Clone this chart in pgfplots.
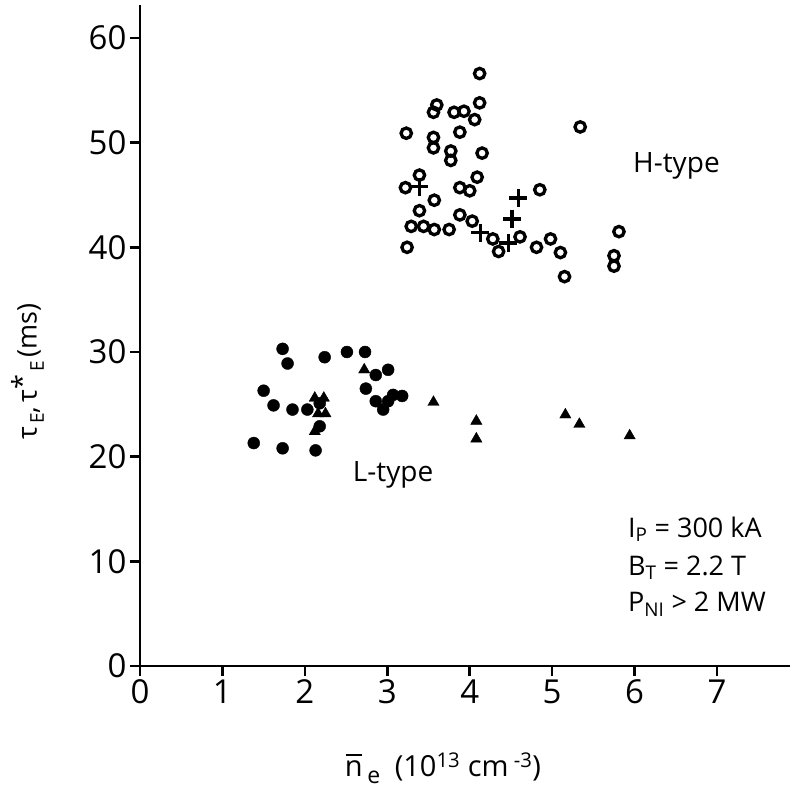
\documentclass[border=0pt]{standalone}
\usepackage{fontspec}
\setmainfont{Open Sans}
\usepackage{pgfplots}
\pgfplotsset{compat=1.18}
\newcommand{\nbar}{\makebox[0pt][l]{\hspace{0.03em}\raisebox{0.72em}{\rule{0.55em}{0.065em}}}n}
\begin{document}
\begin{tikzpicture}
\begin{axis}[
  at={(0,0)}, anchor=south west,
  scale only axis, width=650pt, height=661pt,
  xmin=0, xmax=7.885, ymin=0, ymax=63.15,
  axis lines*=left,
  axis line style={line width=2.6pt},
  xtick={0,1,...,7}, ytick={0,10,...,60},
  tick style={line width=2.6pt, black},
  tick align=outside, major tick length=10pt,
  tick label style={font=\fontsize{33}{36}\selectfont},
  /pgf/number format/assume math mode=true,
  clip=false,
  xlabel={\nbar\,\raisebox{-0.45ex}{\fontsize{23}{23}\selectfont e}\enspace(10\textsuperscript{13} cm\textsuperscript{ -3})},
  ylabel={τ\raisebox{-0.5ex}{\fontsize{19}{19}\selectfont\,E},\,τ\raisebox{0.35ex}{*}\raisebox{-0.5ex}{\fontsize{19}{19}\selectfont\,E\,}(ms)},
  every axis x label/.style={at={(axis description cs:0.466,-0.155)}, anchor=center, font=\fontsize{29}{32}\selectfont},
  every axis y label/.style={at={(axis description cs:-0.173,0.445)}, anchor=center, rotate=90, font=\fontsize{27}{30}\selectfont},
]
% L-type filled circles
\addplot[only marks, mark=*, mark size=6pt, black] coordinates {
(1.73,30.3)(1.79,28.9)(2.24,29.5)(2.51,30.0)(2.73,30.0)(2.86,27.8)(3.01,28.3)
(2.74,26.5)(1.50,26.3)(1.62,24.9)(1.85,24.5)(2.03,24.5)(2.86,25.3)(2.95,24.5)
(3.07,25.9)(3.18,25.8)(3.01,25.3)(2.18,22.9)(1.38,21.3)(1.73,20.8)(2.13,20.6)(2.18,25.1)
};
% triangles
\addplot[only marks, mark=triangle*, mark size=6.5pt, black] coordinates {
(2.72,28.3)(2.12,25.6)(2.23,25.6)(2.16,24.1)(2.25,24.1)(2.12,22.4)(3.56,25.2)
(4.08,23.4)(4.08,21.7)(5.16,24.0)(5.33,23.1)(5.94,22.0)
};
% H-type open circles
\addplot[only marks, mark=o, mark size=5.2pt, line width=3.3pt, black] coordinates {
(4.12,56.6)(3.60,53.6)(3.56,52.9)(3.81,52.9)(3.93,53.0)(4.06,52.2)(4.12,53.8)
(3.23,50.9)(3.56,50.5)(3.56,49.5)(3.88,51.0)(3.77,49.2)(3.77,48.3)(4.15,49.0)
(3.39,46.9)(3.22,45.7)(3.88,45.7)(4.00,45.4)(4.09,46.7)(3.57,44.5)(3.39,43.5)
(3.29,42.0)(3.44,42.0)(3.57,41.7)(3.75,41.7)(3.88,43.1)(4.03,42.5)(3.24,40.0)
(4.28,40.8)(4.35,39.6)(4.61,41.0)(4.81,40.0)(4.85,45.5)(4.98,40.8)(5.10,39.5)
(5.15,37.2)(5.81,41.5)(5.75,39.2)(5.75,38.2)(5.34,51.5)
};
% crosses
\addplot[only marks, mark=+, mark size=9pt, line width=3.5pt, black] coordinates {
(3.39,45.8)(4.13,41.4)(4.47,40.4)(4.51,42.7)(4.59,44.7)
};
\node[font=\fontsize{28}{30}\selectfont, anchor=base west, inner sep=0pt] at (axis cs:5.98,47.1) {H-type};
\node[font=\fontsize{28}{30}\selectfont, anchor=base west, inner sep=0pt] at (axis cs:2.58,17.6) {L-type};
\begin{scope}[every node/.style={font=\fontsize{27}{30}\selectfont, anchor=base west, inner sep=0pt}]
\node at (axis cs:5.92,12.32) {I\textsubscript{P} = 300 kA};
\node at (axis cs:5.92,8.69) {B\textsubscript{T} = 2.2 T};
\node at (axis cs:5.92,5.16) {P\textsubscript{NI} > 2 MW};
\end{scope}
\end{axis}
\path[use as bounding box] (-140pt,-138pt) rectangle (664pt,666pt);
\end{tikzpicture}
\end{document}
